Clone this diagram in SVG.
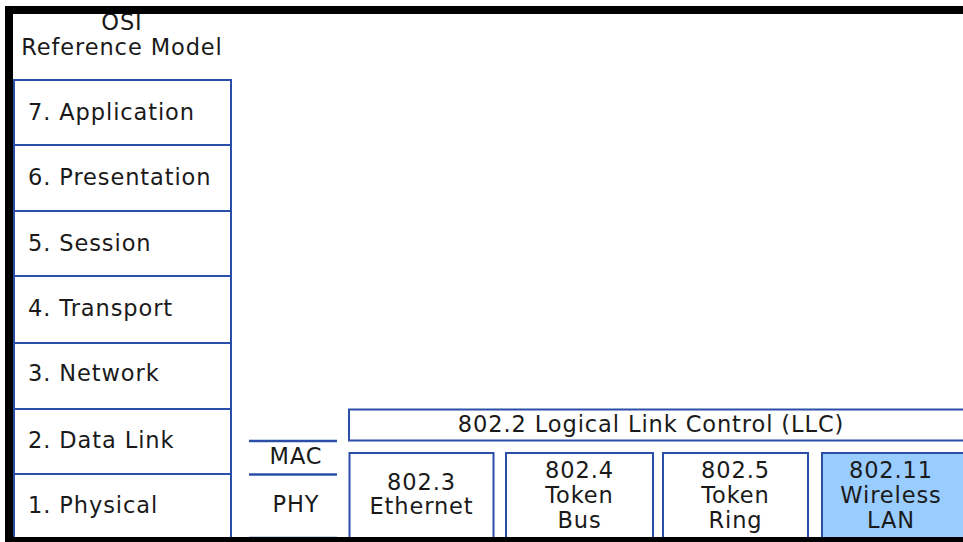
<svg xmlns="http://www.w3.org/2000/svg" width="963" height="542" viewBox="0 0 963 542">
<style>
text{font-family:"DejaVu Sans","Verdana",sans-serif;font-size:22.5px;fill:#1a1a1a;letter-spacing:0.9px}
.box{fill:#fff;stroke:#2b4fa8;stroke-width:2}
.hl{fill:#99ccff;stroke:#2b4fa8;stroke-width:2}
.ln{stroke:#2b4fa8;stroke-width:2.5}
.c{text-anchor:middle}
</style>
<rect width="963" height="542" fill="#fff"/>
<g id="title">
<text class="c" x="122" y="30">OSI</text>
<text class="c" x="122" y="55">Reference Model</text>
</g>
<g id="osi">
<g id="l7"><rect class="box" x="14" y="80" width="217" height="65"/><text x="28" y="120">7. Application</text></g>
<g id="l6"><rect class="box" x="14" y="145" width="217" height="66"/><text x="28" y="185">6. Presentation</text></g>
<g id="l5"><rect class="box" x="14" y="211" width="217" height="65"/><text x="28" y="251">5. Session</text></g>
<g id="l4"><rect class="box" x="14" y="276" width="217" height="67"/><text x="28" y="316">4. Transport</text></g>
<g id="l3"><rect class="box" x="14" y="343" width="217" height="66"/><text x="28" y="381">3. Network</text></g>
<g id="l2"><rect class="box" x="14" y="409" width="217" height="65"/><text x="28" y="448">2. Data Link</text></g>
<g id="l1"><rect class="box" x="14" y="474" width="217" height="65"/><text x="28" y="513">1. Physical</text></g>
</g>
<g id="connectors">
<line class="ln" x1="249" y1="441" x2="337" y2="441"/>
<line class="ln" x1="249" y1="474.5" x2="337" y2="474.5"/>
<line class="ln" x1="249" y1="538" x2="337" y2="538"/>
</g>
<g id="mac"><text class="c" x="296" y="464">MAC</text></g>
<g id="phy"><text class="c" x="296" y="512">PHY</text></g>
<g id="llc"><rect class="box" x="349" y="409.5" width="630" height="31"/><text class="c" x="651" y="432">802.2 Logical Link Control (LLC)</text></g>
<g id="eth"><rect class="box" x="349.5" y="453" width="144" height="100"/><text class="c" x="421.5" y="490">802.3</text><text class="c" x="421.5" y="514">Ethernet</text></g>
<g id="bus"><rect class="box" x="506" y="453" width="147" height="100"/><text class="c" x="579.5" y="478">802.4</text><text class="c" x="579.5" y="503">Token</text><text class="c" x="579.5" y="528">Bus</text></g>
<g id="ring"><rect class="box" x="663" y="453" width="145" height="100"/><text class="c" x="735.5" y="478">802.5</text><text class="c" x="735.5" y="503">Token</text><text class="c" x="735.5" y="528">Ring</text></g>
<g id="wlan"><rect class="hl" x="822" y="453" width="160" height="100"/><text class="c" x="891" y="478">802.11</text><text class="c" x="891" y="503">Wireless</text><text class="c" x="891" y="528">LAN</text></g>
<g id="frame" fill="#000">
<rect x="5" y="6" width="958" height="8"/>
<rect x="5" y="6" width="8" height="536"/>
<rect x="5" y="537" width="958" height="5"/>
</g>
</svg>
